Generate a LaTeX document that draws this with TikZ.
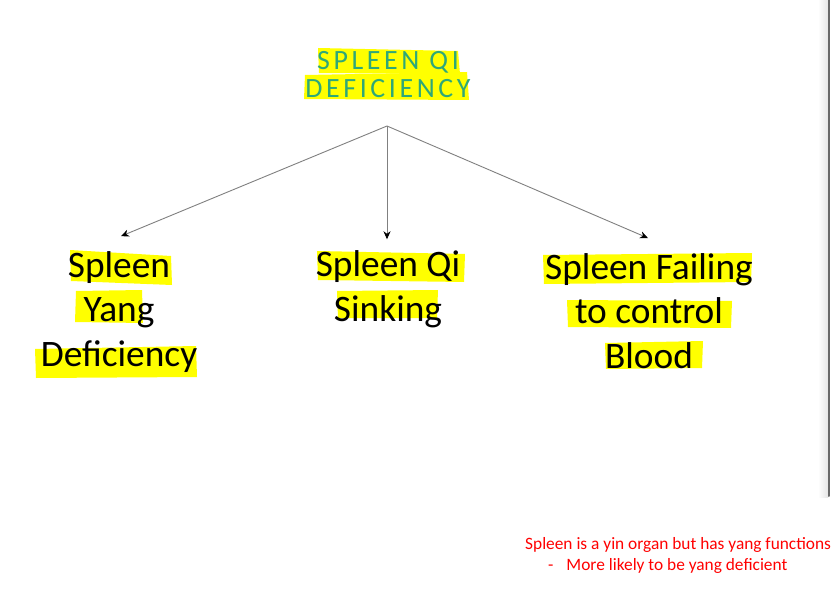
\documentclass[tikz,border=0pt]{standalone}
\usepackage{fontspec}
\setmainfont{Carlito}
\newfontfamily\titlefont[LetterSpace=13]{Carlito}
\usetikzlibrary{arrows.meta}
\definecolor{hl}{RGB}{255,255,0}
\definecolor{titlegreen}{RGB}{46,168,120}
\definecolor{notered}{RGB}{255,0,0}
\definecolor{arrowgray}{RGB}{128,128,128}
\definecolor{edgegray}{RGB}{105,105,105}
\begin{document}
\begin{tikzpicture}[x=1bp,y=-1bp,
  bigtext/.style={font=\fontsize{37.5}{44.8}\selectfont, align=center, inner sep=0pt, text=black},
  titletext/.style={font=\titlefont\fontsize{28}{29}\selectfont, align=center, inner sep=0pt, text=titlegreen},
  notetext/.style={font=\fontsize{17.4}{21}\selectfont, align=left, inner sep=0pt, text=notered, anchor=north west},
  conn/.style={draw=arrowgray, line width=0.9bp, -{Stealth[length=8bp,width=7bp,inset=2.5bp,black]}},
  marker/.style={fill=hl, draw=none},
]
\useasboundingbox (0,0) rectangle (831,607);
\fill[white] (0,0) rectangle (831,607);
% window edge
\shade[left color=white, right color=black!10] (818,0) rectangle (828,497);
\draw[edgegray, line width=2bp, line cap=round] (829,0) -- (829,496);

% highlighter strokes
\fill[marker] (318,48) -- (458,51) -- (460,74) -- (319,73) -- cycle;
\fill[marker] (305,75) -- (467,72) -- (469,100) -- (304,99) -- cycle;

\fill[marker] (70,250) -- (171,256) -- (172,285) -- (71,281) -- cycle;
\fill[marker] (76,291) -- (142,290) -- (143,323) -- (75,322) -- cycle;
\fill[marker] (35,349) -- (196,346) -- (197,377) -- (36,378) -- cycle;

\fill[marker] (317,251) -- (465,254) -- (464,282) -- (318,280) -- cycle;
\fill[marker] (337,291) -- (438,290) -- (437,318) -- (338,318) -- cycle;

\fill[marker] (543,255) -- (752,253) -- (751,282) -- (544,284) -- cycle;
\fill[marker] (567,300) -- (732,301) -- (731,328) -- (568,327) -- cycle;
\fill[marker] (605,343) -- (703,341) -- (702,368) -- (606,369) -- cycle;

% texts
\node[titletext] (title) at (388,74.5) {SPLEEN QI\\DEFICIENCY};
\node[bigtext] (yang) at (119,312) {Spleen\\Yang\\Deficiency};
\node[bigtext] (sink) at (388,289) {Spleen Qi\\Sinking};
\node[bigtext] (blood) at (649,311) {Spleen Failing\\to control\\Blood};
\node[notetext] (note) at (525,537) {Spleen is a yin organ but has yang functions\\\hspace*{23bp}-\hspace*{13bp}More likely to be yang deficient};

% connectors
\coordinate (hub) at (387,126);
\coordinate (yangtip) at ([shift={(2,-15)}]yang.north);
\coordinate (sinktip) at ([shift={(-1,-11)}]sink.north);
\coordinate (bloodtip) at ([shift={(-1,-15)}]blood.north);
\draw[conn] (hub) -- (yangtip);
\draw[conn] (hub) -- (sinktip);
\draw[conn] (hub) -- (bloodtip);
\end{tikzpicture}
\end{document}
